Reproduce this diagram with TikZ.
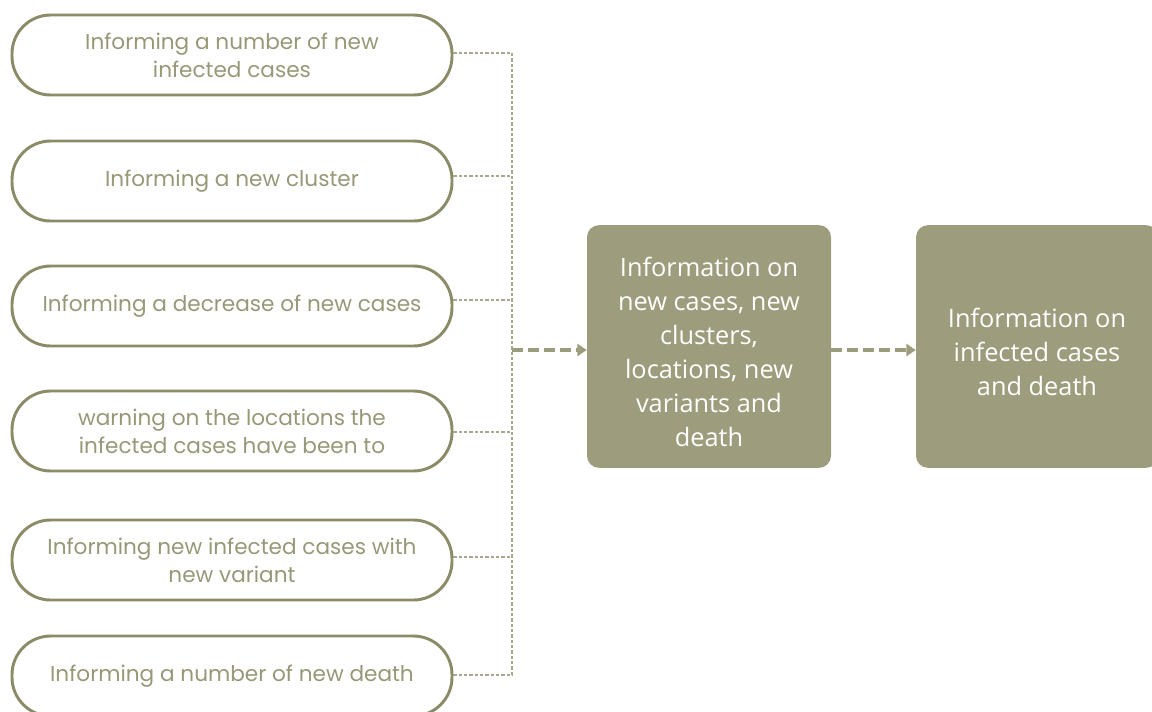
\documentclass[tikz,border=0pt]{standalone}
\usepackage{fontspec}
\setmainfont{Open Sans}
\newfontfamily\pillfont{Poppins}
\usetikzlibrary{arrows.meta}
\definecolor{olive}{HTML}{9D9C7C}
\definecolor{pillline}{HTML}{8C8B68}
\definecolor{pilltext}{HTML}{989878}
\definecolor{dashc}{HTML}{A9A88E}
\begin{document}
\begin{tikzpicture}[x=0.75pt,y=-0.75pt,
  pill/.style={draw=pillline, line width=2.2pt, rounded corners=29pt,
    minimum width=330pt, minimum height=60pt, align=center,
    font=\pillfont\fontsize{16.2}{21}\selectfont, text=pilltext, inner sep=0pt},
  box/.style={fill=olive, rounded corners=9pt, minimum width=183pt,
    minimum height=182pt, inner sep=0pt},
  boxtext/.style={align=center, text=white,
    font=\fontsize{19}{25.5}\selectfont, inner sep=0pt},
  thin/.style={draw=dashc, line width=0.8pt, dash pattern=on 2.5pt off 1.5pt},
  thick/.style={draw=olive, line width=2.4pt, dash pattern=on 8pt off 4pt,
    -{Triangle[length=7pt,width=9pt]}}
]
\useasboundingbox (0,0) rectangle (1152,711);
\node[pill] (p1) at (232,55) {Informing a number of new\\infected cases};
\node[pill] (p2) at (232,181) {Informing a new cluster};
\node[pill] (p3) at (232,306) {Informing a decrease of new cases};
\node[pill] (p4) at (232,431) {warning on the locations the\\infected cases have been to};
\node[pill] (p5) at (232,560) {Informing new infected cases with\\new variant};
\node[pill] (p6) at (232,676) {Informing a number of new death};
\node[box] (b1) at (709,346.5) {};
\node[boxtext] (t1) at ([yshift=-4pt]b1.center) {Information on\\new cases, new\\clusters,\\locations, new\\variants and\\death};
\node[box, minimum width=181.5pt] (b2) at (1037,346.5) {};
\node[boxtext] (t2) at ([yshift=-4pt]b2.center) {Information on\\infected cases\\and death};
\coordinate (j1) at (512,53);
\coordinate (j6) at (512,675);
\coordinate (jm) at (512,350);
\draw[thin] (p1.east |- j1) -- (j1) -- (j6) -- (p6.east |- j6);
\foreach \p/\yy in {p2/176,p3/300,p4/432,p5/557}{
  \draw[thin] (\p.east |- 0,\yy) -- (512,\yy);
}
\draw[thick] (jm) -- (b1.west |- jm);
\draw[thick] (b1.east |- jm) -- (b2.west |- jm);
\end{tikzpicture}
\end{document}
